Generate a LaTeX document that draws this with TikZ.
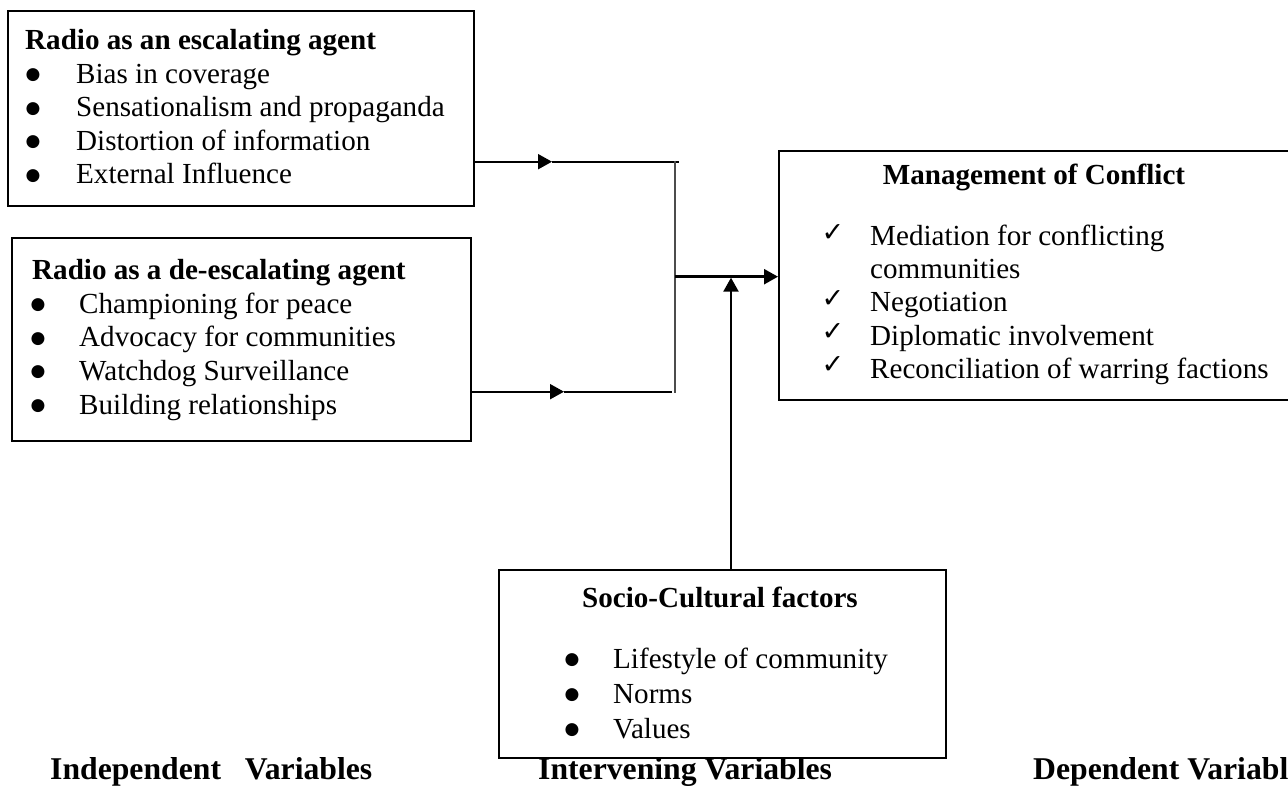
\documentclass[tikz,border=0pt]{standalone}
\usepackage{fontspec}
\setmainfont{Liberation Serif}
\newfontfamily\symfont{DejaVu Sans}
\usetikzlibrary{arrows.meta}
\tikzset{
  txt/.style={anchor=base west, inner sep=0pt, font=\fontsize{29.1}{33}\selectfont},
  ttl/.style={anchor=base west, inner sep=0pt, font=\bfseries\fontsize{29.1}{33}\selectfont},
  ctl/.style={anchor=base, inner sep=0pt, font=\bfseries\fontsize{29.1}{33}\selectfont},
  lbl/.style={anchor=base west, inner sep=0pt, font=\bfseries\fontsize{31.7}{36}\selectfont},
  bul/.style={anchor=base, inner sep=0pt, font=\symfont\fontsize{17}{17}\selectfont},
  chk/.style={anchor=base, inner sep=0pt, font=\symfont\fontsize{27}{27}\selectfont},
  box/.style={draw, line width=2pt, inner sep=0pt, anchor=north west},
  conn/.style={line width=2pt},
  tip/.style={-{Triangle[length=14pt,width=15pt]}}
}
\newcommand\bitem[5]{\node[bul] (#1b) at (#2,#4-3.5) {●}; \node[txt] (#1) at (#3,#4) {#5};}
\newcommand\citem[5]{\node[chk] (#1c) at (#2,#4-4.5) {✓}; \node[txt] (#1) at (#3,#4) {#5};}
\begin{document}
\begin{tikzpicture}[x=1pt,y=-1pt]
\fill[white] (0,0) rectangle (1288,786);
\useasboundingbox (0,0) rectangle (1288,786);
% boxes
\node[box, minimum width=466pt, minimum height=195pt] (b1) at (7,10) {};
\node[box, minimum width=459pt, minimum height=203pt] (b2) at (11,237) {};
\node[box, minimum width=512pt, minimum height=249pt] (b3) at (778,150) {};
\node[box, minimum width=447pt, minimum height=188pt] (b4) at (498,569) {};
% box 1
\node[ttl] (t1) at (25,50) {Radio as an escalating agent};
\bitem{i11}{33}{76}{83.5}{Bias in coverage}
\bitem{i12}{33}{76}{117}{Sensationalism and propaganda}
\bitem{i13}{33}{76}{150.5}{Distortion of information}
\bitem{i14}{33}{76}{184}{External Influence}
% box 2
\node[ttl] (t2) at (32,280) {Radio as a de-escalating agent};
\bitem{i21}{38}{79}{313.5}{Championing for peace}
\bitem{i22}{38}{79}{347}{Advocacy for communities}
\bitem{i23}{38}{79}{380.5}{Watchdog Surveillance}
\bitem{i24}{38}{79}{414}{Building relationships}
% box 3
\node[ctl] (t3) at (1034,185) {Management of Conflict};
\citem{i31}{833}{870}{246}{Mediation for conflicting}
\node[txt] (i31x) at (870,279) {communities};
\citem{i32}{833}{870}{312}{Negotiation}
\citem{i33}{833}{870}{345}{Diplomatic involvement}
\citem{i34}{833}{870}{378}{Reconciliation of warring factions}
% box 4
\node[ctl] (t4) at (720,607) {Socio-Cultural factors};
\bitem{i41}{572}{613}{668}{Lifestyle of community}
\bitem{i42}{572}{613}{703}{Norms}
\bitem{i43}{572}{613}{738}{Values}
% bottom labels
\node[lbl] (l1) at (50,779) {Independent\hspace{0.75em}Variables};
\node[lbl] (l2) at (538,779) {Intervening Variables};
\node[lbl] (l3) at (1033,779) {Dependent Variables};
% connectors
\coordinate (j1) at (679,161.7);
\coordinate (a1) at (552,161.7);
\coordinate (j2) at (672,391.7);
\coordinate (a2) at (564,391.7);
\coordinate (v1) at (675,160.7);
\coordinate (v2) at (675,393);
\coordinate (jm) at (675,276.7);
\coordinate (u) at (731,277.7);
\draw[conn, tip] (b1.east |- j1) -- (a1);
\draw[conn] (a1) -- (j1);
\draw[conn, tip] (b2.east |- j2) -- (a2);
\draw[conn] (a2) -- (j2);
\draw[line width=1.3pt, black!70] (v1) -- (v2);
\draw[line width=2.4pt, tip] (jm) -- (jm -| b3.west);
\draw[line width=2.4pt, tip] (u |- b4.north) -- (u);
\end{tikzpicture}
\end{document}
